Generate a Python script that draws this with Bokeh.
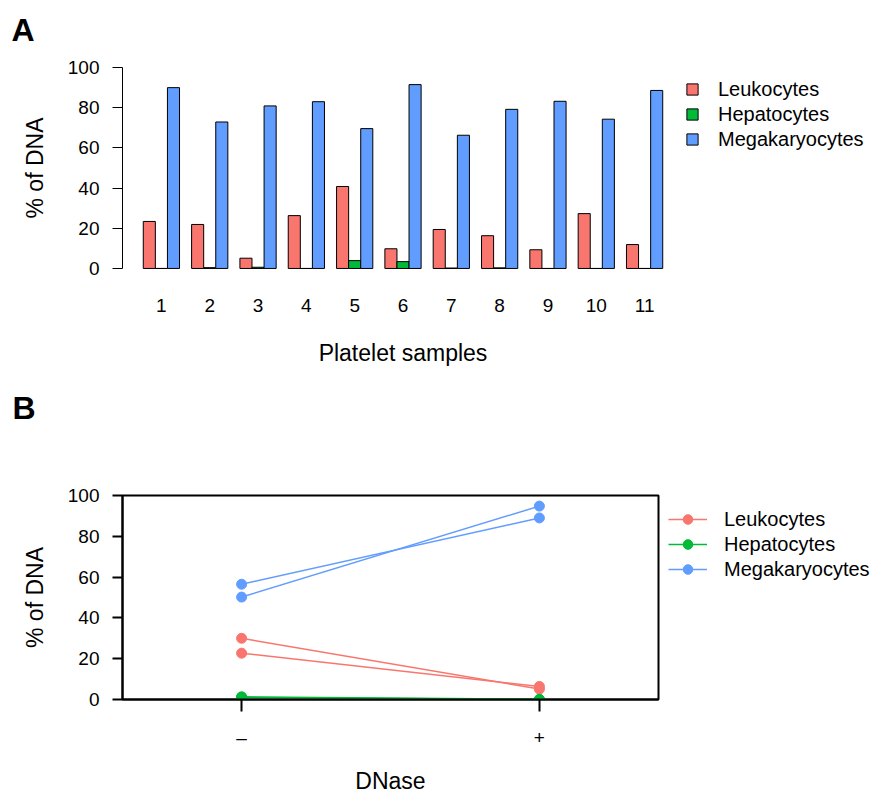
from bokeh.plotting import figure
from bokeh.models import Range1d, FixedTicker, Legend, LegendItem, Title
from bokeh.layouts import column
from bokeh.embed import file_html
from bokeh.resources import INLINE

FONT = "Liberation Sans"

# ---------------- Panel A data ----------------
samples = ["1", "2", "3", "4", "5", "6", "7", "8", "9", "10", "11"]
leukocytes = [23.4, 21.9, 5.1, 26.3, 40.8, 9.8, 19.4, 16.3, 9.3, 27.3, 11.9]
hepatocytes = [0.0, 0.4, 0.6, 0.0, 3.9, 3.4, 0.2, 0.3, 0.0, 0.0, 0.0]
megakaryocytes = [90.0, 72.9, 80.9, 83.0, 69.6, 91.5, 66.3, 79.2, 83.2, 74.3, 88.6]
cell_types = ["Leukocytes", "Hepatocytes", "Megakaryocytes"]
colors = ["#F8766D", "#00BA38", "#619CFF"]
y_ticks = [0, 20, 40, 60, 80, 100]

# ---------------- Panel B data ----------------
dnase = ["\u2013", "+"]
leukocytes_sample1 = [30.0, 5.1]
leukocytes_sample2 = [22.7, 6.4]
hepatocytes_sample1 = [1.3, 0.1]
hepatocytes_sample2 = [1.0, 0.0]
megakaryocytes_sample1 = [56.5, 89.0]
megakaryocytes_sample2 = [50.2, 94.8]


def style_axis(ax, tick_out, standoff, label_standoff, lw):
    ax.axis_line_color = "black"
    ax.axis_line_width = lw
    ax.major_tick_line_color = "black"
    ax.major_tick_line_width = lw
    ax.major_tick_out = tick_out
    ax.major_tick_in = 0
    ax.minor_tick_line_color = None
    ax.major_label_text_font = FONT
    ax.major_label_text_font_size = "19px"
    ax.major_label_text_color = "black"
    ax.major_label_standoff = standoff
    ax.axis_label_text_font = FONT
    ax.axis_label_text_font_size = "23px"
    ax.axis_label_text_font_style = "normal"
    ax.axis_label_text_color = "black"
    ax.axis_label_standoff = label_standoff


def panel_title(text, offset, standoff):
    return Title(text=text, align="left", vertical_align="top",
                 offset=offset, standoff=standoff,
                 text_font=FONT, text_font_size="32px", text_font_style="bold",
                 text_color="black")


# ================= Panel A =================
pa = figure(frame_width=561, frame_height=217,
            min_border_left=121, min_border_right=192,
            min_border_top=59, min_border_bottom=175,
            x_range=Range1d(-0.72, 45.72), y_range=Range1d(-4, 104),
            output_backend="svg", toolbar_location=None)
pa.outline_line_color = None
pa.xgrid.visible = False
pa.ygrid.visible = False

n = len(samples)
group_centers = [4 * i + 2.5 for i in range(n)]
series = [leukocytes, hepatocytes, megakaryocytes]
bar_renderers = []
for k, (vals, col) in enumerate(zip(series, colors)):
    xs = [c + (k - 1) for c in group_centers]
    r = pa.vbar(x=xs, top=vals, bottom=0, width=1.0,
                fill_color=col, line_color="black", line_width=1)
    bar_renderers.append(r)

style_axis(pa.yaxis[0], 10, 13, 17, 1)
pa.yaxis.ticker = FixedTicker(ticks=y_ticks)
pa.yaxis.bounds = (0, 100)
pa.yaxis.axis_label = "% of DNA"

style_axis(pa.xaxis[0], 0, 22, 25, 1)
pa.xaxis.axis_line_color = None
pa.xaxis.major_tick_line_color = None
pa.xaxis.ticker = FixedTicker(ticks=group_centers)
pa.xaxis.major_label_overrides = {c: s for c, s in zip(group_centers, samples)}
pa.xaxis.axis_label = "Platelet samples"

legend_a = Legend(
    items=[LegendItem(label=t, renderers=[r]) for t, r in zip(cell_types, bar_renderers)],
    location=(2, 125), orientation="vertical",
    glyph_width=14, glyph_height=14, label_standoff=19,
    label_text_font=FONT, label_text_font_size="20px", label_text_color="black",
    label_height=24, spacing=1, padding=0, margin=0,
    border_line_alpha=0, background_fill_alpha=0)
pa.add_layout(legend_a, "right")

# panel letters: "A" above panel A, "B" stacked below the x axis of panel A
pa.add_layout(panel_title("A", -111, 20), "above")
pa.add_layout(panel_title("B", -110, 42), "below")

# ================= Panel B =================
pb = figure(frame_width=536, frame_height=204,
            min_border_left=122, min_border_right=216,
            min_border_top=44, min_border_bottom=96,
            x_range=Range1d(0.6, 2.4), y_range=Range1d(0, 100),
            output_backend="svg", toolbar_location=None)
pb.outline_line_color = "black"
pb.outline_line_width = 2
pb.xgrid.visible = False
pb.ygrid.visible = False

xb = [1, 2]
b_series = [
    [leukocytes_sample1, leukocytes_sample2],
    [hepatocytes_sample1, hepatocytes_sample2],
    [megakaryocytes_sample1, megakaryocytes_sample2],
]
legend_renderers = []
for vals_list, col in zip(b_series, colors):
    rs = []
    for vals in vals_list:
        rs.append(pb.line(x=xb, y=vals, line_color=col, line_width=1.5))
    for vals in vals_list:
        rs.append(pb.scatter(x=xb, y=vals, size=10, fill_color=col, line_color=col))
    legend_renderers.append(rs)

style_axis(pb.yaxis[0], 10, 13, 17, 2)
pb.yaxis.ticker = FixedTicker(ticks=y_ticks)
pb.yaxis.axis_label = "% of DNA"

style_axis(pb.xaxis[0], 12, 15, 17, 2)
pb.xaxis.ticker = FixedTicker(ticks=xb)
pb.xaxis.major_label_overrides = {x: s for x, s in zip(xb, dnase)}
pb.xaxis.axis_label = "DNase"

legend_b = Legend(
    items=[LegendItem(label=t, renderers=[rs[0], rs[2]]) for t, rs in zip(cell_types, legend_renderers)],
    location=(10, 118), orientation="vertical",
    glyph_width=39, glyph_height=24, label_standoff=17,
    label_text_font=FONT, label_text_font_size="20px", label_text_color="black",
    label_height=24, spacing=1, padding=0, margin=0,
    border_line_alpha=0, background_fill_alpha=0)
pb.add_layout(legend_b, "right")

layout = column(pa, pb, spacing=0)
open("out.html", "w").write(file_html(layout, INLINE))
